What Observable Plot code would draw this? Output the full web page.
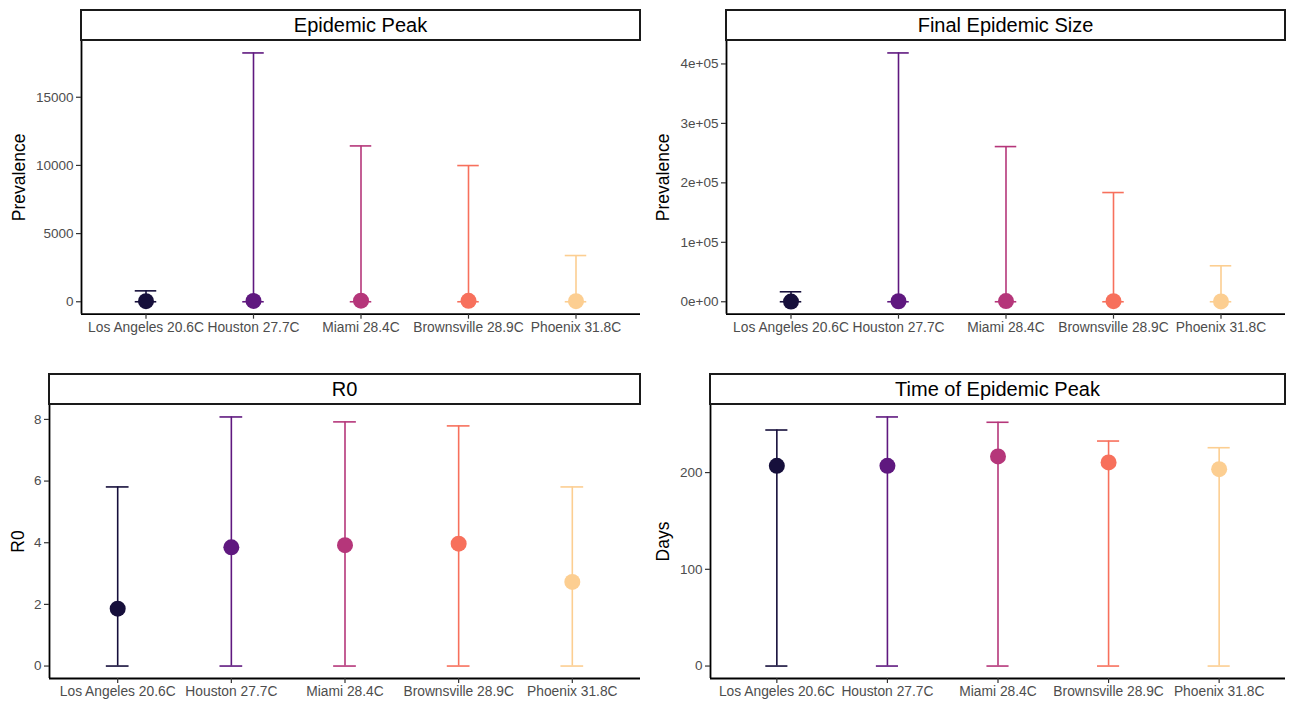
<!DOCTYPE html>
<html>
<head>
<meta charset="utf-8">
<script src="https://cdn.jsdelivr.net/npm/d3@7"></script>
<script src="https://cdn.jsdelivr.net/npm/@observablehq/plot@0.6"></script>
<style>
  html, body { margin: 0; padding: 0; background: #fff; }
  #root { position: relative; width: 1291px; height: 702px; overflow: hidden; font-family: "Liberation Sans", Arial, Helvetica, sans-serif; }
  .strip { position: absolute; box-sizing: border-box; border: 2px solid #1a1a1a; background: #fff;
           display: flex; align-items: center; justify-content: center; font-size: 20px; color: #000; }
  .panel { position: absolute; }
  .panel svg { overflow: visible; }
</style>
</head>
<body>
<div id="root"></div>
<script>
// ---- data ----
const cities = ["Los Angeles 20.6C", "Houston 27.7C", "Miami 28.4C", "Brownsville 28.9C", "Phoenix 31.8C"];
const cityColors = ["#160f3b", "#5f187f", "#b5367a", "#f7705c", "#fcce91"];

const peakMean = [40, 60, 80, 70, 45];
const peakLow  = [0, 0, 0, 0, 0];
const peakHigh = [800, 18250, 11430, 9990, 3390];
const peakTicks = [0, 5000, 10000, 15000];
const peakTickLabels = ["0", "5000", "10000", "15000"];

const sizeMean = [300, 900, 1200, 1000, 600];
const sizeLow  = [0, 0, 0, 0, 0];
const sizeHigh = [16800, 418500, 261000, 183700, 60500];
const sizeTicks = [0, 100000, 200000, 300000, 400000];
const sizeTickLabels = ["0e+00", "1e+05", "2e+05", "3e+05", "4e+05"];

const r0Mean = [1.86, 3.85, 3.92, 3.97, 2.73];
const r0Low  = [0, 0, 0, 0, 0];
const r0High = [5.81, 8.08, 7.92, 7.79, 5.81];
const r0Ticks = [0, 2, 4, 6, 8];
const r0TickLabels = ["0", "2", "4", "6", "8"];

const daysMean = [207, 207, 216.7, 210.5, 203.5];
const daysLow  = [0, 0, 0, 0, 0];
const daysHigh = [244, 257.5, 252, 232.6, 225.7];
const daysTicks = [0, 100, 200];
const daysTickLabels = ["0", "100", "200"];

// ---- layout ----
const panels = [
  {title: "Epidemic Peak", ytitle: "Prevalence", mean: peakMean, low: peakLow, high: peakHigh, ticks: peakTicks, tickLabels: peakTickLabels,
   svgLeft: 0, svgTop: 40, width: 645, height: 300, mL: 81, mR: 5, mB: 26.3, titleDx: -62, stripTop: 9},
  {title: "Final Epidemic Size", ytitle: "Prevalence", mean: sizeMean, low: sizeLow, high: sizeHigh, ticks: sizeTicks, tickLabels: sizeTickLabels,
   svgLeft: 645, svgTop: 40, width: 646, height: 300, mL: 81, mR: 6, mB: 26.3, titleDx: -63, stripTop: 9},
  {title: "R0", ytitle: "R0", mean: r0Mean, low: r0Low, high: r0High, ticks: r0Ticks, tickLabels: r0TickLabels,
   svgLeft: 0, svgTop: 404, width: 645, height: 298, mL: 49, mR: 5, mB: 24, titleDx: -31, stripTop: 373},
  {title: "Time of Epidemic Peak", ytitle: "Days", mean: daysMean, low: daysLow, high: daysHigh, ticks: daysTicks, tickLabels: daysTickLabels,
   svgLeft: 645, svgTop: 404, width: 646, height: 298, mL: 65, mR: 6, mB: 24, titleDx: -47, stripTop: 373}
];

const root = document.getElementById("root");
const idx = cities.map((_, i) => i);

for (const p of panels) {
  const rows = cities.map((c, i) => ({i, city: c, mean: p.mean[i], low: p.low[i], high: p.high[i]}));
  const lo = d3.min(p.low), hi = d3.max(p.high);
  const pad = (hi - lo) * 0.05;
  const yDomain = [lo - pad, hi + pad];
  const xDomain = [-0.6, cities.length - 1 + 0.6];

  const chart = Plot.plot({
    width: p.width,
    height: p.height,
    marginLeft: p.mL,
    marginRight: p.mR,
    marginTop: 0,
    marginBottom: p.mB,
    style: {fontFamily: '"Liberation Sans", Arial, Helvetica, sans-serif', background: "transparent", color: "#4d4d4d", overflow: "visible"},
    x: {domain: xDomain},
    y: {domain: yDomain},
    color: {domain: cities, range: cityColors},
    marks: [
      // error bars: vertical line + caps
      Plot.ruleX(rows, {x: "i", y1: "low", y2: "high", stroke: "city", strokeWidth: 1.6}),
      Plot.ruleY(rows, {y: "high", x1: d => d.i - 0.1, x2: d => d.i + 0.1, stroke: "city", strokeWidth: 1.6}),
      Plot.ruleY(rows, {y: "low", x1: d => d.i - 0.1, x2: d => d.i + 0.1, stroke: "city", strokeWidth: 1.6}),
      Plot.dot(rows, {x: "i", y: "mean", r: 8, fill: "city", stroke: "none"}),
      // axis lines
      Plot.ruleY([yDomain[0]], {stroke: "#000", strokeWidth: 1.8}),
      Plot.ruleX([xDomain[0]], {stroke: "#000", strokeWidth: 1.8}),
      // axes
      Plot.axisX({ticks: idx, tickFormat: i => cities[i], tickSize: 5, tickPadding: 3, fontSize: 13.8, label: null, stroke: "#333", strokeWidth: 1.2}),
      Plot.axisY({ticks: p.ticks, tickFormat: (d, i) => p.tickLabels[i], tickSize: 5, tickPadding: 3, fontSize: 13.5, label: null, stroke: "#333", strokeWidth: 1.2}),
      // y axis title
      Plot.text([p.ytitle], {text: d => d, frameAnchor: "left", textAnchor: "middle", lineAnchor: "middle", dx: p.titleDx, rotate: -90, fontSize: 17.5, fill: "#000"})
    ]
  });

  const wrap = document.createElement("div");
  wrap.className = "panel";
  wrap.style.left = p.svgLeft + "px";
  wrap.style.top = p.svgTop + "px";
  wrap.appendChild(chart);
  root.appendChild(wrap);

  const strip = document.createElement("div");
  strip.className = "strip";
  strip.style.left = (p.svgLeft + p.mL - 1) + "px";
  strip.style.top = p.stripTop + "px";
  strip.style.width = (p.width - p.mL - p.mR + 2) + "px";
  strip.style.height = "32px";
  strip.textContent = p.title;
  root.appendChild(strip);
}
</script>
</body>
</html>
